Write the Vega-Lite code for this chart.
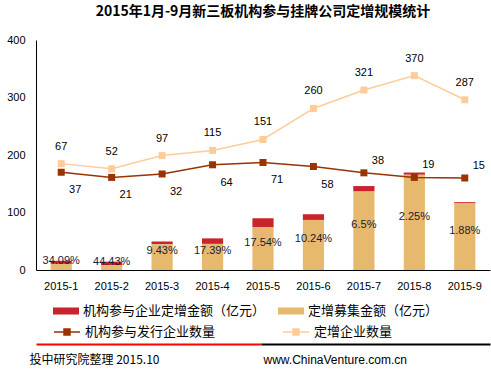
{
  "$schema": "https://vega.github.io/schema/vega-lite/v6.json",
  "width": 454,
  "height": 230,
  "autosize": {"type": "none"},
  "padding": {"left": 36, "top": 40, "right": 1, "bottom": 103},
  "background": "white",
  "config": {"view": {"stroke": null}, "font": "Liberation Sans"},
  "title": {
    "text": "2015年1月-9月新三板机构参与挂牌公司定增规模统计",
    "font": "Noto Sans CJK SC",
    "fontSize": 14,
    "fontWeight": "bold",
    "color": "#000000",
    "anchor": "middle",
    "frame": "group",
    "baseline": "alphabetic",
    "offset": 4
  },
  "datasets": {
    "bars": [
      {"month": "2015-1", "series": "机构参与企业定增金额（亿元）", "amount": 5.4, "pct": ""},
      {"month": "2015-1", "series": "定增募集金额（亿元）", "amount": 10.6, "pct": "34.09%"},
      {"month": "2015-2", "series": "机构参与企业定增金额（亿元）", "amount": 6.4, "pct": ""},
      {"month": "2015-2", "series": "定增募集金额（亿元）", "amount": 8.1, "pct": "44.43%"},
      {"month": "2015-3", "series": "机构参与企业定增金额（亿元）", "amount": 4.7, "pct": ""},
      {"month": "2015-3", "series": "定增募集金额（亿元）", "amount": 44.8, "pct": "9.43%"},
      {"month": "2015-4", "series": "机构参与企业定增金额（亿元）", "amount": 9.6, "pct": ""},
      {"month": "2015-4", "series": "定增募集金额（亿元）", "amount": 45.4, "pct": "17.39%"},
      {"month": "2015-5", "series": "机构参与企业定增金额（亿元）", "amount": 15.8, "pct": ""},
      {"month": "2015-5", "series": "定增募集金额（亿元）", "amount": 74.2, "pct": "17.54%"},
      {"month": "2015-6", "series": "机构参与企业定增金额（亿元）", "amount": 9.9, "pct": ""},
      {"month": "2015-6", "series": "定增募集金额（亿元）", "amount": 87.1, "pct": "10.24%"},
      {"month": "2015-7", "series": "机构参与企业定增金额（亿元）", "amount": 9.5, "pct": ""},
      {"month": "2015-7", "series": "定增募集金额（亿元）", "amount": 136.5, "pct": "6.5%"},
      {"month": "2015-8", "series": "机构参与企业定增金额（亿元）", "amount": 3.8, "pct": ""},
      {"month": "2015-8", "series": "定增募集金额（亿元）", "amount": 165.7, "pct": "2.25%"},
      {"month": "2015-9", "series": "机构参与企业定增金额（亿元）", "amount": 2.2, "pct": ""},
      {"month": "2015-9", "series": "定增募集金额（亿元）", "amount": 115.8, "pct": "1.88%"}
    ],
    "lines": [
      {"month": "2015-1", "series": "机构参与发行企业数量", "count": 170, "label": "37"},
      {"month": "2015-2", "series": "机构参与发行企业数量", "count": 161, "label": "21"},
      {"month": "2015-3", "series": "机构参与发行企业数量", "count": 167, "label": "32"},
      {"month": "2015-4", "series": "机构参与发行企业数量", "count": 183, "label": "64"},
      {"month": "2015-5", "series": "机构参与发行企业数量", "count": 187, "label": "71"},
      {"month": "2015-6", "series": "机构参与发行企业数量", "count": 180, "label": "58"},
      {"month": "2015-7", "series": "机构参与发行企业数量", "count": 169, "label": "38"},
      {"month": "2015-8", "series": "机构参与发行企业数量", "count": 161, "label": "19"},
      {"month": "2015-9", "series": "机构参与发行企业数量", "count": 160, "label": "15"},
      {"month": "2015-1", "series": "定增企业数量", "count": 185, "label": "67"},
      {"month": "2015-2", "series": "定增企业数量", "count": 176, "label": "52"},
      {"month": "2015-3", "series": "定增企业数量", "count": 199, "label": "97"},
      {"month": "2015-4", "series": "定增企业数量", "count": 208, "label": "115"},
      {"month": "2015-5", "series": "定增企业数量", "count": 227, "label": "151"},
      {"month": "2015-6", "series": "定增企业数量", "count": 281, "label": "260"},
      {"month": "2015-7", "series": "定增企业数量", "count": 313, "label": "321"},
      {"month": "2015-8", "series": "定增企业数量", "count": 338, "label": "370"},
      {"month": "2015-9", "series": "定增企业数量", "count": 296, "label": "287"}
    ],
    "deco": [{"t": 0}, {"t": 1}]
  },
  "layer": [
    {
      "layer": [
        {
          "layer": [
            {
              "data": {"name": "bars"},
              "mark": {"type": "bar"},
              "encoding": {
                "x": {
                  "field": "month", "type": "nominal",
                  "scale": {"paddingInner": 0.58, "paddingOuter": 0.29},
                  "axis": {"title": null, "labelAngle": 0, "labelFont": "Liberation Sans", "labelFontSize": 11, "labelColor": "#000000", "domainColor": "#000000", "domainWidth": 1, "ticks": false, "labelPadding": 10}
                },
                "y": {
                  "field": "amount", "type": "quantitative", "stack": "zero",
                  "scale": {"domain": [0, 400], "nice": false},
                  "axis": {"title": null, "grid": false, "ticks": false, "values": [0, 100, 200, 300, 400], "labelFont": "Liberation Sans", "labelFontSize": 11, "labelColor": "#000000", "domainColor": "#000000", "domainWidth": 1, "labelPadding": 11}
                },
                "fill": {
                  "field": "series", "type": "nominal",
                  "scale": {"domain": ["机构参与企业定增金额（亿元）", "定增募集金额（亿元）"], "range": ["#C9232B", "#E6B96E"]},
                  "legend": {
                    "orient": "none", "legendX": 17, "legendY": 258, "direction": "horizontal",
                    "title": null, "padding": 0,
                    "symbolType": "M-1,-0.27H1V0.27H-1Z", "symbolSize": 676, "symbolStrokeWidth": 0,
                    "labelFont": "Noto Sans CJK SC", "labelFontSize": 13, "labelColor": "#000000", "labelOffset": 4, "labelLimit": 300,
                    "columnPadding": 12
                  }
                },
                "order": {"field": "series", "sort": "ascending"}
              }
            },
            {
              "data": {"name": "lines"},
              "mark": {"type": "line", "strokeWidth": 1.5},
              "encoding": {
                "x": {"field": "month", "type": "nominal"},
                "y": {"field": "count", "type": "quantitative"},
                "color": {
                  "field": "series", "type": "nominal",
                  "scale": {"domain": ["机构参与发行企业数量", "定增企业数量"], "range": ["#993300", "#FFCC99"]},
                  "legend": {
                    "orient": "none", "legendX": 17, "legendY": 278, "direction": "horizontal",
                    "title": null, "padding": 0,
                    "symbolType": "M-1,0H1M-0.23,-0.23H0.23V0.23H-0.23Z", "symbolSize": 676, "symbolStrokeWidth": 1.5,
                    "labelFont": "Noto Sans CJK SC", "labelFontSize": 13, "labelColor": "#000000", "labelOffset": 4, "labelLimit": 300,
                    "columnPadding": 64,
                    "encode": {"symbols": {"update": {"fill": {"scale": "color", "field": "value"}, "stroke": {"scale": "color", "field": "value"}, "strokeWidth": {"value": 1.5}}}}
                  }
                }
              }
            },
            {
              "data": {"name": "lines"},
              "mark": {"type": "point", "shape": "square", "filled": true, "size": 49, "opacity": 1},
              "encoding": {
                "x": {"field": "month", "type": "nominal"},
                "y": {"field": "count", "type": "quantitative"},
                "color": {"field": "series", "type": "nominal"}
              }
            },
            {
              "data": {"name": "lines"},
              "transform": [{"filter": {"field": "series", "equal": "定增企业数量"}}],
              "mark": {"type": "text", "font": "Liberation Sans", "fontSize": 11, "color": "#000000", "baseline": "middle", "dy": -17},
              "encoding": {
                "x": {"field": "month", "type": "nominal"},
                "y": {"field": "count", "type": "quantitative"},
                "text": {"field": "label"}
              }
            },
            {
              "data": {"name": "lines"},
              "transform": [
                {"filter": {"field": "series", "equal": "机构参与发行企业数量"}},
                {"filter": {"field": "month", "oneOf": ["2015-1", "2015-2", "2015-3", "2015-4", "2015-5", "2015-6"]}}
              ],
              "mark": {"type": "text", "font": "Liberation Sans", "fontSize": 11, "color": "#000000", "baseline": "middle", "dx": 14, "dy": 18},
              "encoding": {
                "x": {"field": "month", "type": "nominal"},
                "y": {"field": "count", "type": "quantitative"},
                "text": {"field": "label"}
              }
            },
            {
              "data": {"name": "lines"},
              "transform": [
                {"filter": {"field": "series", "equal": "机构参与发行企业数量"}},
                {"filter": {"field": "month", "oneOf": ["2015-7", "2015-8", "2015-9"]}}
              ],
              "mark": {"type": "text", "font": "Liberation Sans", "fontSize": 11, "color": "#000000", "baseline": "middle", "dx": 14, "dy": -12},
              "encoding": {
                "x": {"field": "month", "type": "nominal"},
                "y": {"field": "count", "type": "quantitative"},
                "text": {"field": "label"}
              }
            }
          ]
        },
        {
          "data": {"name": "bars"},
          "transform": [{"filter": {"field": "series", "equal": "定增募集金额（亿元）"}}],
          "mark": {"type": "text", "font": "Liberation Sans", "fontSize": 11, "color": "#1a1a33", "baseline": "middle"},
          "encoding": {
            "x": {"field": "month", "type": "nominal"},
            "y": {"field": "amount", "type": "quantitative", "scale": {"domain": [-20, 780], "nice": false}, "axis": null},
            "text": {"field": "pct"}
          }
        }
      ],
      "resolve": {"scale": {"y": "independent"}, "axis": {"y": "independent"}}
    },
    {
      "data": {"name": "deco"},
      "mark": {"type": "tick", "opacity": 0},
      "encoding": {
        "x": {
          "field": "t", "type": "quantitative", "scale": {"domain": [0, 1]},
          "axis": {
            "orient": "bottom", "offset": 74, "labels": false, "ticks": false, "grid": false,
            "domainColor": "#FF0000", "domainWidth": 2, "domainDash": [225, 400],
            "title": "投中研究院整理 2015.10", "titleFont": "Noto Sans CJK SC", "titleFontSize": 12, "titleFontWeight": "normal", "titleColor": "#000000",
            "titleAlign": "left", "titleBaseline": "middle", "titleX": -7, "titleY": 15
          }
        }
      }
    },
    {
      "data": {"name": "deco"},
      "mark": {"type": "tick", "opacity": 0},
      "encoding": {
        "x": {
          "field": "t", "type": "quantitative", "scale": {"domain": [0, 1]},
          "axis": {
            "orient": "bottom", "offset": 74, "labels": false, "ticks": false, "grid": false,
            "domainColor": "#000000", "domainWidth": 2, "domainDash": [0, 225, 400, 0],
            "title": "www.ChinaVenture.com.cn", "titleFont": "Liberation Sans", "titleFontSize": 12, "titleFontWeight": "normal", "titleColor": "#000000",
            "titleAlign": "left", "titleBaseline": "middle", "titleX": 227, "titleY": 15
          }
        }
      }
    }
  ],
  "resolve": {"scale": {"x": "independent"}, "axis": {"x": "independent"}}
}
